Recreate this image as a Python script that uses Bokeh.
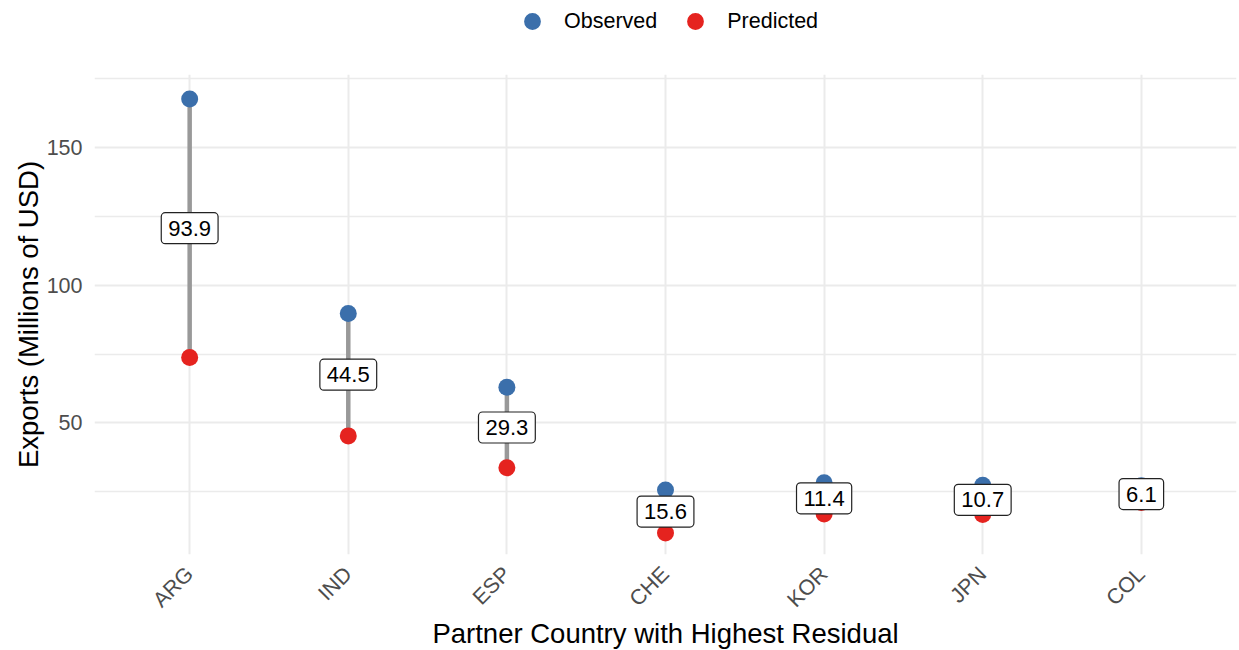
import math
from bokeh.plotting import figure
from bokeh.layouts import column
from bokeh.models import FactorRange, Range1d, FixedTicker, Legend, LegendItem, ColumnDataSource
from bokeh.embed import file_html
from bokeh.resources import INLINE

countries = ["ARG", "IND", "ESP", "CHE", "KOR", "JPN", "COL"]
observed = [167.7, 89.8, 63.0, 25.6, 28.3, 27.4, 27.2]
predicted = [73.8, 45.3, 33.7, 10.0, 16.9, 16.7, 21.1]
residual_labels = ["93.9", "44.5", "29.3", "15.6", "11.4", "10.7", "6.1"]
series_names = ["Observed", "Predicted"]
y_ticks = [50, 100, 150]
y_minor = [25, 75, 125, 175]

FONT = "Liberation Sans"
BLUE = "#3B6FAB"
RED = "#E5231F"

mid = [(o + p) / 2 for o, p in zip(observed, predicted)]
src = ColumnDataSource(dict(x=countries, obs=observed, pred=predicted, mid=mid, lab=residual_labels))

# ---- main plot ----
p = figure(
    frame_width=1142, frame_height=480,
    x_range=FactorRange(factors=countries, range_padding=0.1, range_padding_units="absolute"),
    y_range=Range1d(2.2, 176.6),
    output_backend="svg", toolbar_location=None,
    min_border_left=94, min_border_right=2, min_border_top=32, min_border_bottom=6,
)
p.outline_line_color = None
p.background_fill_color = "white"

p.segment(x0="x", y0="pred", x1="x", y1="obs", source=src, line_color="#999999", line_width=4.5)
p.scatter(x="x", y="obs", source=src, size=17, fill_color=BLUE, line_color=None)
p.scatter(x="x", y="pred", source=src, size=17, fill_color=RED, line_color=None)
p.text(x="x", y="mid", text="lab", source=src, text_align="center", text_baseline="middle",
       text_font={"value": FONT}, text_font_size="22px", text_color="black",
       background_fill_color="white", border_line_color="#222222", border_line_width=1.2,
       padding=dict(left=7, right=7, top=8, bottom=8), border_radius=4)

p.xgrid.grid_line_color = "#EBEBEB"
p.xgrid.grid_line_width = 2
p.ygrid.grid_line_color = "#EBEBEB"
p.ygrid.grid_line_width = 2
p.ygrid.minor_grid_line_color = "#EBEBEB"
p.ygrid.minor_grid_line_width = 1.5
p.yaxis.ticker = FixedTicker(ticks=y_ticks, minor_ticks=y_minor)

for ax in (p.xaxis, p.yaxis):
    ax.axis_line_color = None
    ax.major_tick_line_color = None
    ax.minor_tick_line_color = None
    ax.major_tick_out = 0
    ax.major_tick_in = 0
    ax.minor_tick_out = 0
    ax.minor_tick_in = 0
    ax.major_label_text_font = FONT
    ax.major_label_text_font_size = "21.5px"
    ax.major_label_text_color = "#4D4D4D"
    ax.axis_label_text_font = FONT
    ax.axis_label_text_font_size = "27.5px"
    ax.axis_label_text_font_style = "normal"
    ax.axis_label_text_color = "black"

p.xaxis.axis_label = "Partner Country with Highest Residual"
p.yaxis.axis_label = "Exports (Millions of USD)"
p.xaxis.major_label_orientation = math.pi / 4
p.xaxis.major_label_standoff = 16
p.yaxis.major_label_standoff = 12
p.xaxis.axis_label_standoff = -5
p.yaxis.axis_label_standoff = 0

# ---- legend strip ----
lg = figure(width=1238, height=42, x_range=Range1d(0, 1), y_range=Range1d(0, 1),
            output_backend="svg", toolbar_location=None,
            min_border_left=0, min_border_right=0, min_border_top=0, min_border_bottom=0)
lg.outline_line_color = None
lg.axis.visible = False
lg.grid.visible = False
l_obs = lg.scatter(x=[-10], y=[-10], size=17, fill_color=BLUE, line_color=None)
l_pred = lg.scatter(x=[-10], y=[-10], size=17, fill_color=RED, line_color=None)
legend = Legend(
    items=[LegendItem(label=series_names[0], renderers=[l_obs]),
           LegendItem(label=series_names[1], renderers=[l_pred])],
    orientation="horizontal", location=(417, 0),
    glyph_width=42, glyph_height=42, label_standoff=11, spacing=17, padding=0, margin=0,
    border_line_color=None, background_fill_alpha=0,
    label_text_font=FONT, label_text_font_size="21.5px", label_text_color="black",
)
lg.add_layout(legend, "center")

layout = column(lg, p, spacing=0)
open("out.html", "w").write(file_html(layout, INLINE))
